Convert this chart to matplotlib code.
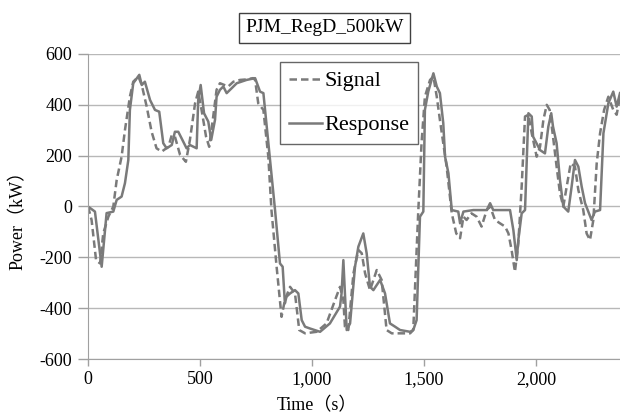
import matplotlib.pyplot as plt
from matplotlib.ticker import FuncFormatter

# Response (solid) - time in s, power in kW
resp_t = [0, 31, 61, 83, 113, 128, 150, 165, 180, 187, 202, 229, 240, 254, 277, 299, 318,
          336, 351, 374, 388, 403, 418, 440, 455, 485, 492, 503, 518, 537, 550, 567, 574,
          589, 604, 619, 641, 664, 708, 746, 768, 783, 835, 857, 869, 879, 886, 902, 924,
          939, 954, 969, 991, 1036, 1080, 1125, 1132, 1140, 1147, 1155, 1170, 1192, 1207,
          1229, 1244, 1259, 1274, 1304, 1326, 1348, 1371, 1393, 1438, 1452, 1467, 1482,
          1497, 1504, 1519, 1542, 1557, 1571, 1586, 1594, 1609, 1624, 1653, 1661, 1676,
          1720, 1780, 1795, 1809, 1884, 1899, 1914, 1921, 1936, 1951, 1966, 1981, 1987,
          2018, 2040, 2055, 2068, 2076, 2092, 2107, 2122, 2144, 2159, 2174, 2189, 2204,
          2219, 2248, 2263, 2286, 2301, 2323, 2345, 2360, 2375]
resp_p = [0, -20, -237, -26, -20, 26, 39, 92, 183, 380, 485, 518, 478, 491, 419, 380, 373,
          249, 229, 242, 294, 294, 268, 229, 242, 229, 419, 478, 367, 334, 262, 341, 432,
          459, 472, 446, 465, 485, 498, 505, 452, 446, -14, -224, -237, -381, -355, -342,
          -329, -342, -447, -473, -480, -493, -460, -394, -342, -211, -342, -486, -460,
          -237, -158, -106, -184, -316, -329, -289, -342, -460, -473, -486, -493, -486,
          -447, -40, -20, 380, 452, 524, 472, 446, 328, 196, 131, -14, -20, -66, -20,
          -14, -14, 13, -14, -14, -93, -211, -132, -27, -14, 367, 354, 275,
          222, 209, 314, 367, 314, 249, 104, 0, -20, 78, 183, 157, 78,
          13, -53, -20, -14, 288, 406, 452, 393, 446]

# Signal (dashed)
sig_t = [0, 16, 36, 54, 68, 91, 113, 128, 150, 165, 187, 202, 225, 240, 262, 284, 306,
         329, 359, 374, 388, 411, 437, 455, 478, 492, 507, 527, 541, 559, 574, 589, 626,
         649, 679, 708, 737, 746, 760, 783, 805, 819, 842, 864, 879, 902, 924, 943, 969,
         1021, 1065, 1103, 1125, 1140, 1147, 1162, 1185, 1207, 1222, 1237, 1259, 1289,
         1311, 1333, 1356, 1438, 1452, 1474, 1489, 1504, 1527, 1542, 1557, 1571, 1601,
         1624, 1644, 1661, 1676, 1690, 1712, 1735, 1757, 1780, 1795, 1817, 1839, 1862,
         1877, 1891, 1906, 1921, 1936, 1951, 1966, 1981, 2003, 2018, 2033, 2048, 2061,
         2076, 2092, 2107, 2122, 2137, 2155, 2174, 2189, 2211, 2226, 2241, 2256, 2271,
         2286, 2304, 2323, 2345, 2360, 2375]
sig_p = [0, -53, -211, -224, -106, -40, 0, 104, 196, 301, 432, 491, 511, 478, 393, 294, 229,
         216, 235, 281, 275, 203, 176, 262, 406, 452, 380, 275, 235, 354, 459, 485, 472,
         491, 498, 500, 505, 498, 406, 380, 196, -14, -237, -434, -368, -316, -342, -486,
         -499, -493, -460, -368, -316, -368, -473, -486, -263, -171, -184, -263, -329,
         -250, -289, -486, -499, -499, -486, -27, 249, 432, 498, 511, 432, 341, 157,
         -27, -106, -125, -40, -53, -27, -40, -79, -14, 0, -53, -66, -79,
         -106, -171, -257, -145, 78, 354, 361, 288, 196, 235, 341, 400, 380,
         275, 157, 52, 0, 78, 170, 157, 65, -14, -106, -132, -53, 170,
         288, 380, 432, 380, 361, 432]

line_col = '#7a7a7a'
plt.rcParams['font.family'] = 'Liberation Serif'
plt.rcParams['axes.unicode_minus'] = False

fig = plt.figure(figsize=(6.2, 4.19), dpi=100)
ax = fig.add_axes([88/620, 1 - 359/419, 1 - 88/620, (359 - 54)/419])

ax.plot(sig_t, sig_p, color=line_col, lw=1.8, ls=(0, (3, 1.6)), label='Signal')
ax.plot(resp_t, resp_p, color=line_col, lw=1.8, label='Response')

ax.set_xlim(0, 2375)
ax.set_ylim(-600, 600)
ax.set_yticks(range(-600, 601, 200))
ax.set_xticks(range(0, 2001, 500))
ax.xaxis.set_major_formatter(FuncFormatter(lambda v, p: '{:,}'.format(int(v))))
ax.grid(axis='y', color='#b8b8b8', lw=1.0)
ax.set_axisbelow(True)
for s in ['top', 'right']:
    ax.spines[s].set_visible(False)
for s in ['left', 'bottom']:
    ax.spines[s].set_color('#a0a0a0')
ax.tick_params(axis='both', colors='#a0a0a0', labelcolor='black', labelsize=13,
               length=5, width=1)
ax.tick_params(axis='y', length=7.5, pad=4)

fig.text(18/620, 1 - 216/419, 'Power（kW）', rotation=90, ha='center', va='center',
         fontsize=13, family=['Liberation Serif', 'Noto Sans CJK SC'])
fig.text(317/620, 1 - 406/419, 'Time（s）', ha='center', va='center', fontsize=13,
         family=['Liberation Serif', 'Noto Sans CJK SC'])
fig.text(324.5/620, 1 - 28/419, 'PJM_RegD_500kW', ha='center', va='center', fontsize=14,
         bbox=dict(boxstyle='square,pad=0.35', fc='white', ec='#404040', lw=1))

leg = ax.legend(loc='upper left', bbox_to_anchor=((280 - 88)/532, 1 - (62 - 54)/305),
                fontsize=16, frameon=True, fancybox=False, edgecolor='#404040',
                handlelength=1.5, handletextpad=0.1, labelspacing=1.05, borderpad=0.4,
                borderaxespad=0)
leg.get_frame().set_linewidth(1)

fig.savefig('out.png', dpi=100)
